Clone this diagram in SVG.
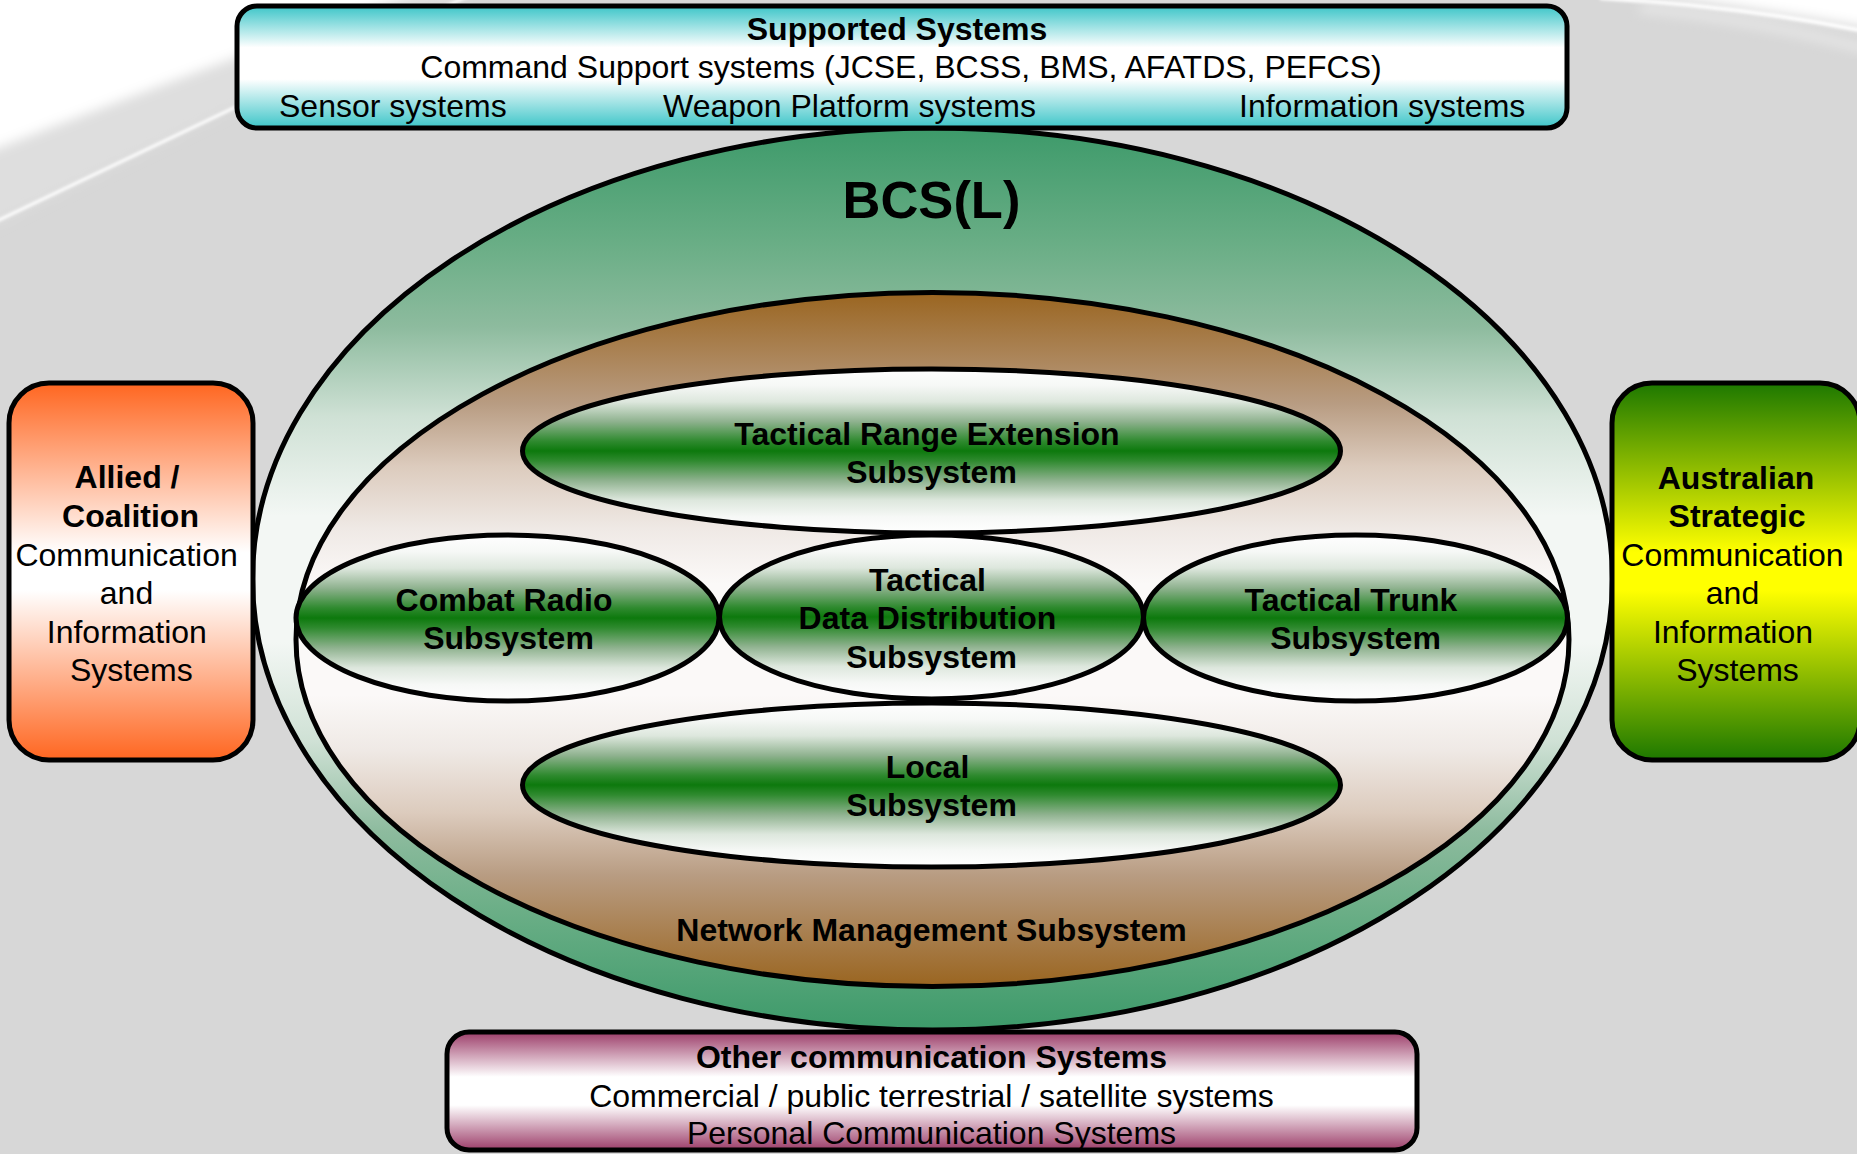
<svg xmlns="http://www.w3.org/2000/svg" width="1857" height="1154" viewBox="0 0 1857 1154">
<defs>
<style>
text{font-family:"Liberation Sans",Arial,sans-serif;font-size:32px;fill:#000}
.b{font-weight:bold}
.m{text-anchor:middle}
.frame{stroke:#000;stroke-width:5}
</style>
<filter id="blur6" x="-20%" y="-20%" width="140%" height="140%"><feGaussianBlur stdDeviation="6"/></filter>
<filter id="blur2" x="-20%" y="-20%" width="140%" height="140%"><feGaussianBlur stdDeviation="1.6"/></filter>
<linearGradient id="gTeal" x1="0" y1="0" x2="0" y2="1">
<stop offset="0" stop-color="#3cc5c8"/><stop offset="0.34" stop-color="#ffffff"/><stop offset="0.6" stop-color="#ffffff"/><stop offset="1" stop-color="#3cc5c8"/>
</linearGradient>
<linearGradient id="gBCS" x1="0" y1="0" x2="0" y2="1">
<stop offset="0" stop-color="#3d9a6a"/><stop offset="0.13" stop-color="#6aae86"/><stop offset="0.22" stop-color="#8dbb9e"/><stop offset="0.32" stop-color="#cfe1d5"/><stop offset="0.43" stop-color="#f3f7f4"/><stop offset="0.57" stop-color="#f3f7f4"/><stop offset="0.68" stop-color="#cfe1d5"/><stop offset="0.78" stop-color="#8dbb9e"/><stop offset="0.87" stop-color="#6aae86"/><stop offset="1" stop-color="#3d9a6a"/>
</linearGradient>
<linearGradient id="gBrown" x1="0" y1="0" x2="0" y2="1">
<stop offset="0" stop-color="#9a6520"/><stop offset="0.16" stop-color="#b89c82"/><stop offset="0.25" stop-color="#dccbbd"/><stop offset="0.34" stop-color="#efe9e5"/><stop offset="0.42" stop-color="#fbf9f8"/><stop offset="0.58" stop-color="#fbf9f8"/><stop offset="0.66" stop-color="#efe9e5"/><stop offset="0.75" stop-color="#dccbbd"/><stop offset="0.84" stop-color="#b89c82"/><stop offset="1" stop-color="#9a6520"/>
</linearGradient>
<linearGradient id="gGreen" x1="0" y1="0" x2="0" y2="1">
<stop offset="0" stop-color="#ffffff"/><stop offset="0.1" stop-color="#f6f8f6"/><stop offset="0.2" stop-color="#dde7dd"/><stop offset="0.32" stop-color="#8fb28f"/><stop offset="0.44" stop-color="#2f8a2f"/><stop offset="0.5" stop-color="#0d790d"/><stop offset="0.56" stop-color="#2f8a2f"/><stop offset="0.68" stop-color="#8fb28f"/><stop offset="0.8" stop-color="#dde7dd"/><stop offset="0.9" stop-color="#f6f8f6"/><stop offset="1" stop-color="#ffffff"/>
</linearGradient>
<linearGradient id="gOrange" x1="0" y1="0" x2="0" y2="1">
<stop offset="0" stop-color="#ff6620"/><stop offset="0.45" stop-color="#ffffff"/><stop offset="0.55" stop-color="#ffffff"/><stop offset="1" stop-color="#ff6620"/>
</linearGradient>
<linearGradient id="gYG" x1="0" y1="0" x2="0" y2="1">
<stop offset="0" stop-color="#1d7800"/><stop offset="0.45" stop-color="#ffff00"/><stop offset="0.55" stop-color="#ffff00"/><stop offset="1" stop-color="#1d7800"/>
</linearGradient>
<linearGradient id="gMaroon" x1="0" y1="0" x2="0" y2="1">
<stop offset="0" stop-color="#9c3d69"/><stop offset="0.38" stop-color="#ffffff"/><stop offset="0.62" stop-color="#ffffff"/><stop offset="1" stop-color="#9c3d69"/>
</linearGradient>
</defs>

<g id="background">
<rect x="0" y="0" width="1857" height="1154" fill="#d7d7d7"/>
<path d="M-20,-20 L500,-20 Q260,95 -20,232 Z" fill="#dedede" filter="url(#blur6)"/>
<path d="M-20,-20 L450,-20 Q210,65 -20,155 Z" fill="#ffffff" filter="url(#blur6)"/>
<path d="M-5,222 Q150,148 470,-5" fill="none" stroke="#ffffff" stroke-width="3" filter="url(#blur2)"/>
<path d="M1540,-20 L1880,-20 L1880,30 Q1720,2 1540,-20 Z" fill="#ffffff" filter="url(#blur6)"/>
<path d="M1600,-2 Q1740,6 1870,32" fill="none" stroke="#ffffff" stroke-width="4" filter="url(#blur2)"/>
<path d="M1640,8 Q1760,20 1870,50" fill="none" stroke="#eeeeee" stroke-width="6" filter="url(#blur6)"/>
</g>

<g id="connectors"/>

<g id="bcsl">
<ellipse cx="932.5" cy="579" rx="680" ry="451" fill="url(#gBCS)" class="frame"/>
<text x="931.5" y="218" class="b m" style="font-size:52.5px">BCS(L)</text>
</g>

<g id="network-management">
<ellipse cx="932.5" cy="639.5" rx="636.5" ry="347" fill="url(#gBrown)" class="frame"/>
<text x="931.5" y="941" class="b m">Network Management Subsystem</text>
</g>

<g id="tactical-range-extension">
<ellipse cx="931.5" cy="451" rx="409" ry="82" fill="url(#gGreen)" class="frame"/>
<text x="927" y="444.5" class="b m">Tactical Range Extension</text>
<text x="931.5" y="483" class="b m">Subsystem</text>
</g>

<g id="local">
<ellipse cx="931.5" cy="785" rx="409" ry="82" fill="url(#gGreen)" class="frame"/>
<text x="927.5" y="778" class="b m">Local</text>
<text x="931.5" y="816" class="b m">Subsystem</text>
</g>

<g id="combat-radio">
<ellipse cx="507.5" cy="618" rx="211.5" ry="83" fill="url(#gGreen)" class="frame"/>
<text x="504" y="611" class="b m">Combat Radio</text>
<text x="508.5" y="649" class="b m">Subsystem</text>
</g>

<g id="tactical-trunk">
<ellipse cx="1355.5" cy="618" rx="212" ry="83" fill="url(#gGreen)" class="frame"/>
<text x="1351" y="611" class="b m">Tactical Trunk</text>
<text x="1355.5" y="649" class="b m">Subsystem</text>
</g>

<g id="tactical-data-distribution">
<ellipse cx="931.5" cy="617" rx="212" ry="82" fill="url(#gGreen)" class="frame"/>
<text x="927.5" y="591" class="b m">Tactical</text>
<text x="927.5" y="629" class="b m">Data Distribution</text>
<text x="931.5" y="668" class="b m">Subsystem</text>
</g>

<g id="supported-systems">
<rect x="237" y="6" width="1330" height="122" rx="20" ry="20" fill="url(#gTeal)" class="frame"/>
<text x="897" y="40" class="b m">Supported Systems</text>
<text x="901" y="78" class="m">Command Support systems (JCSE, BCSS, BMS, AFATDS, PEFCS)</text>
<text x="279" y="117">Sensor systems</text>
<text x="663" y="117">Weapon Platform systems</text>
<text x="1239" y="117">Information systems</text>
</g>

<g id="allied-coalition">
<rect x="9" y="383" width="244" height="377" rx="40" ry="40" fill="url(#gOrange)" class="frame"/>
<text x="127" y="488" class="b m">Allied /</text>
<text x="130.5" y="527" class="b m">Coalition</text>
<text x="126.6" y="566" class="m">Communication</text>
<text x="126.5" y="604" class="m">and</text>
<text x="126.8" y="643" class="m">Information</text>
<text x="131.3" y="681" class="m">Systems</text>
</g>

<g id="australian-strategic">
<rect x="1612" y="383" width="248" height="377" rx="40" ry="40" fill="url(#gYG)" class="frame"/>
<text x="1736" y="489" class="b m">Australian</text>
<text x="1737" y="527" class="b m">Strategic</text>
<text x="1732.5" y="566" class="m">Communication</text>
<text x="1732.5" y="604" class="m">and</text>
<text x="1733" y="643" class="m">Information</text>
<text x="1737.5" y="681" class="m">Systems</text>
</g>

<g id="other-communication-systems">
<rect x="447" y="1032" width="970" height="118" rx="22" ry="22" fill="url(#gMaroon)" class="frame"/>
<text x="931.5" y="1068" class="b m">Other communication Systems</text>
<text x="931.5" y="1107" class="m">Commercial / public terrestrial / satellite systems</text>
<text x="931.5" y="1144" class="m">Personal Communication Systems</text>
</g>
</svg>
